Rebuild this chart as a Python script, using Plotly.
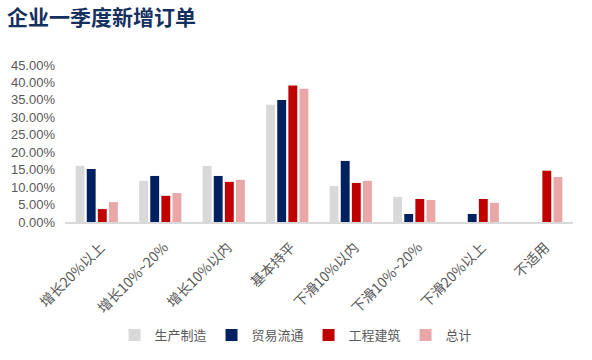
import plotly.graph_objects as go

categories = ["增长20%以上", "增长10%~20%", "增长10%以内", "基本持平", "下滑10%以内", "下滑10%~20%", "下滑20%以上", "不适用"]
manufacturing = [0.161, 0.118, 0.161, 0.336, 0.103, 0.072, 0.0, 0.0]
trade = [0.152, 0.132, 0.132, 0.350, 0.175, 0.023, 0.023, 0.0]
construction = [0.037, 0.075, 0.115, 0.391, 0.112, 0.066, 0.066, 0.147]
total = [0.057, 0.083, 0.121, 0.382, 0.118, 0.063, 0.055, 0.129]

series_names = ["生产制造", "贸易流通", "工程建筑", "总计"]
series_values = [manufacturing, trade, construction, total]
colors = ["#D9D9D9", "#002060", "#C00000", "#EAA7A8"]

y_ticks = [i * 0.05 for i in range(10)]
y_tick_labels = [f"{v*100:.2f}%" for v in y_ticks]

font_family = "Liberation Sans, Arial, Noto Sans CJK SC, sans-serif"

fig = go.Figure()
for name, vals, c in zip(series_names, series_values, colors):
    fig.add_trace(go.Bar(x=categories, y=vals, name=name, marker_color=c, marker_line_width=0))

fig.update_layout(
    width=592, height=360,
    barmode="group", bargap=0.3, bargroupgap=0.2,
    plot_bgcolor="white", paper_bgcolor="white",
    margin=dict(l=65, r=19, t=65, b=138),
    title=dict(text="<b>企业一季度新增订单</b>", xref="container", x=7/592, xanchor="left",
               yref="container", y=1 - 18/360, yanchor="middle",
               font=dict(family="Noto Sans CJK SC", size=21, color="#14305F")),
    font=dict(family=font_family, color="#595959", size=13),
    legend=dict(orientation="h", xref="container", x=0.5, xanchor="center", yref="container", y=25/360, yanchor="middle",
                font=dict(size=13, color="#595959", family="Noto Sans CJK SC"), itemwidth=30, traceorder="normal"),
    showlegend=True,
)
fig.update_yaxes(range=[0, 0.45], tickvals=y_ticks, ticktext=y_tick_labels, showgrid=False, zeroline=False,
                 showline=False, tickfont=dict(size=13, color="#595959"), ticks="", automargin=False,
                 ticklabelstandoff=9)
fig.update_xaxes(tickangle=-45, showline=True, linecolor="#D9D9D9", linewidth=1.5, showgrid=False,
                 tickfont=dict(size=14, color="#595959", family="Noto Sans CJK SC"), ticks="", automargin=False,
                 ticklabelstandoff=10, ticklabelshift=4)

fig.write_html("out.html", config={"displayModeBar": False},
               post_script="document.body.style.margin='0';document.body.style.padding='0';")
